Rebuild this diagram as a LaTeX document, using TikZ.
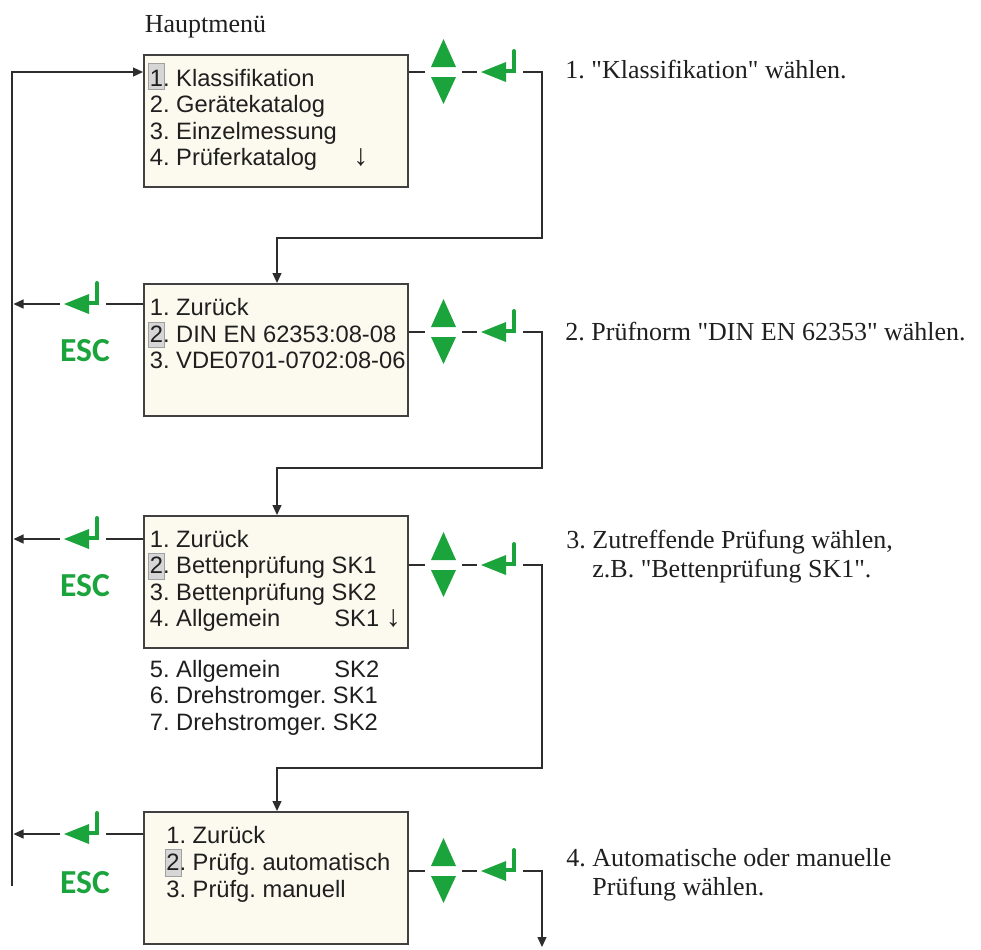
\documentclass[tikz,border=0pt]{standalone}
\usepackage{fontspec}
\setmainfont{Liberation Serif}[Ligatures=TeXOff]
\setsansfont{Liberation Sans}[Ligatures=TeXOff]
\newfontfamily\escfont{Carlito}
\usetikzlibrary{arrows.meta,calc}
\definecolor{kgreen}{RGB}{27,163,60}
\definecolor{boxfill}{RGB}{252,250,239}
\definecolor{boxline}{RGB}{64,64,64}
\definecolor{connline}{RGB}{45,45,45}
\definecolor{hlgray}{RGB}{214,214,214}
\definecolor{hlborder}{RGB}{160,160,160}
\frenchspacing
\newcommand{\dnarrow}{{\fontsize{15}{15}\selectfont ↓}}
\begin{document}
\begin{tikzpicture}[x=0.5pt,y=-0.5pt,
  box/.style={draw=boxline, line width=1pt, fill=boxfill, minimum width=132pt, minimum height=66pt, inner sep=0pt},
  conn/.style={draw=connline, line width=0.65pt},
  arr/.style={-{Triangle[length=5pt,width=4.5pt]}},
  menu/.style={anchor=base west, inner sep=0pt, font=\sffamily\fontsize{11.85}{14}\selectfont, text=black!88},
  note/.style={anchor=base west, inner sep=0pt, font=\fontsize{13}{15}\selectfont, text=black!88},
  esc/.style={font=\escfont\bfseries\fontsize{16.8}{18}\selectfont, text=kgreen, inner sep=0pt},
  hl/.style={fill=hlgray, draw=hlborder, line width=0.5pt},
  pics/updown/.style={code={
    \fill[kgreen] (-12.5,-5) -- (12.5,-5) -- (0,-33) -- cycle;
    \fill[kgreen] (-12.5,5) -- (12.5,5) -- (0,32) -- cycle;
  }},
  pics/enterkey/.style={code={
    \fill[kgreen] (0,0) -- (25,-10) -- (25,10) -- cycle;
    \draw[kgreen, line width=2pt, line cap=round, line join=miter] (22,-1) -- (33,-1) -- (33,-21);
  }}
]
\useasboundingbox (0,0) rectangle (981,949);

% title
\node[note] (title) at (144.5,32) {Hauptmenü};

% boxes
\node[box] (b1) at (276,121) {};
\node[box] (b2) at (276,350) {};
\node[box] (b3) at (276,582) {};
\node[box] (b4) at (275.5,878) {};

% highlights
\draw[hl] (148,63) rectangle (164,89);
\draw[hl] (148,322) rectangle (164,347);
\draw[hl] (148,553) rectangle (164,579);
\draw[hl] (165,849) rectangle (181,876);

% box 1 text
\node[menu] (m11) at (149.5,86) {1. Klassifikation};
\node[menu] (m12) at (149.5,112.5) {2. Gerätekatalog};
\node[menu] (m13) at (149.5,139) {3. Einzelmessung};
\node[menu] (m14) at (149.5,165.5) {4. Prüferkatalog};
\node[menu] (m14a) at (353,165.5) {\dnarrow};

% box 2 text
\node[menu] (m21) at (149.5,315) {1. Zurück};
\node[menu] (m22) at (149.5,342) {2. DIN EN 62353:08-08};
\node[menu] (m23) at (149.5,368) {3. VDE0701-0702:08-06};

% box 3 text
\node[menu] (m31) at (149.5,547) {1. Zurück};
\node[menu] (m32) at (149.5,573.5) {2. Bettenprüfung SK1};
\node[menu] (m33) at (149.5,600) {3. Bettenprüfung SK2};
\node[menu] (m34) at (149.5,626.5) {4. Allgemein};
\node[menu] (m34a) at (334,626.5) {SK1 \dnarrow};
\node[menu] (m35) at (149.5,677) {5. Allgemein};
\node[menu] (m35a) at (334,677) {SK2};
\node[menu] (m36) at (149.5,703) {6. Drehstromger. SK1};
\node[menu] (m37) at (149.5,730) {7. Drehstromger. SK2};

% box 4 text
\node[menu] (m41) at (166,843) {1. Zurück};
\node[menu] (m42) at (166,870) {2. Prüfg. automatisch};
\node[menu] (m43) at (166,897) {3. Prüfg. manuell};

% notes
\node[note] (n1) at (565,78) {1. "Klassifikation" wählen.};
\node[note] (n2) at (565,340) {2. Prüfnorm "DIN EN 62353" wählen.};
\node[note] (n3) at (566,548) {3. Zutreffende Prüfung wählen,};
\node[note] (n3b) at (592,577) {z.B. "Bettenprüfung SK1".};
\node[note] (n4) at (566,866) {4. Automatische oder manuelle};
\node[note] (n4b) at (592,895) {Prüfung wählen.};

% right-hand icon coordinates
\coordinate (t1) at (443.5,72);  \coordinate (e1) at (481,72);  \coordinate (c1) at (542,72);
\coordinate (t2) at (443.5,332); \coordinate (e2) at (481,332); \coordinate (c2) at (542,332);
\coordinate (t3) at (443.5,565); \coordinate (e3) at (481,565); \coordinate (c3) at (542,565);
\coordinate (t4) at (443.5,871); \coordinate (e4) at (481,871); \coordinate (c4) at (542,871);
\coordinate (d1) at (277,238);
\coordinate (d2) at (277,468);
\coordinate (d3) at (277,768);
\coordinate (fin) at (542,947);

\foreach \i in {1,2,3,4}{
  \pic at (t\i) {updown};
  \pic at (e\i) {enterkey};
  \draw[conn] (b\i.east |- t\i) -- ($(t\i)+(-18.5,0)$);
  \draw[conn] ($(t\i)+(18.5,0)$) -- ($(e\i)+(-4,0)$);
}
\draw[conn,arr] ($(e1)+(42,0)$) -- (c1) -- (c1 |- d1) -- (d1) -- (d1 |- b2.north);
\draw[conn,arr] ($(e2)+(42,0)$) -- (c2) -- (c2 |- d2) -- (d2) -- (d2 |- b3.north);
\draw[conn,arr] ($(e3)+(42,0)$) -- (c3) -- (c3 |- d3) -- (d3) -- (d3 |- b4.north);
\draw[conn,arr] ($(e4)+(42,0)$) -- (c4) -- (fin);

% left-hand return path
\coordinate (L0) at (12,72);
\coordinate (Lb) at (12,886);
\draw[conn,arr] (Lb) -- (L0) -- (b1.west |- L0);

\coordinate (k2) at (64,304);
\coordinate (k3) at (64,539);
\coordinate (k4) at (64,834);
\foreach \i in {2,3,4}{
  \pic at (k\i) {enterkey};
  \draw[conn] (b\i.west |- k\i) -- ($(k\i)+(42,0)$);
  \draw[conn,arr] ($(k\i)+(-4,0)$) -- ($(L0 |- k\i)+(1.5,0)$);
}
\node[esc] (esc2) at (85,351) {ESC};
\node[esc] (esc3) at (85,586) {ESC};
\node[esc] (esc4) at (85,883) {ESC};
\end{tikzpicture}
\end{document}
